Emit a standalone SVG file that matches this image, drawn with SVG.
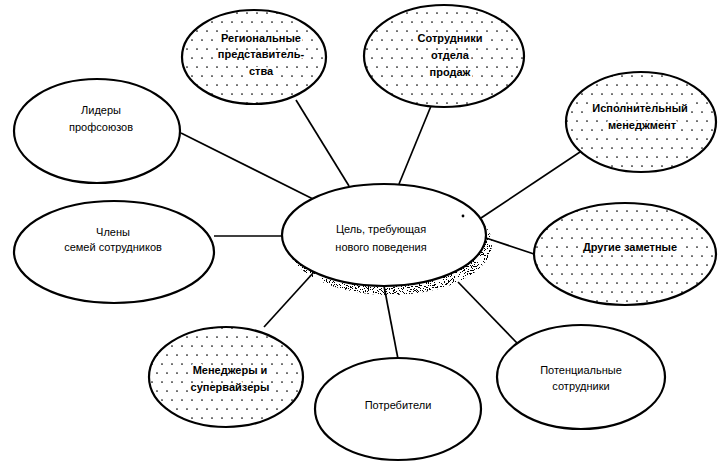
<svg xmlns="http://www.w3.org/2000/svg" width="719" height="465" viewBox="0 0 719 465">
  <defs>
    <!-- stippled fill used by the shaded groups -->
    <pattern id="dots" patternUnits="userSpaceOnUse" width="10" height="18">
      <rect width="10" height="18" fill="#fff"/>
      <circle cx="2" cy="4" r="0.85" fill="#000"/>
      <circle cx="7" cy="13" r="0.85" fill="#000"/>
    </pattern>
    <!-- grainy speckle for the shadow under the central goal -->
    <filter id="grain" x="-5%" y="-5%" width="110%" height="110%">
      <feTurbulence type="fractalNoise" baseFrequency="0.95" numOctaves="2" seed="5" result="n"/>
      <feColorMatrix in="n" type="matrix" values="0 0 0 0 0  0 0 0 0 0  0 0 0 0 0  0 0 0 1 0" result="k"/>
      <feComponentTransfer in="k" result="t">
        <feFuncA type="discrete" tableValues="0 0 0 1 1"/>
      </feComponentTransfer>
      <feComposite in="t" in2="SourceAlpha" operator="in"/>
    </filter>
  </defs>
  <style>
    .plain { fill: #fff; stroke: #000; stroke-width: 2.2; }
    .shade { fill: url(#dots); stroke: #000; stroke-width: 2.2; }
    .link { stroke: #000; stroke-width: 1.7; fill: none; }
    text { font-family: "Liberation Sans", Arial, sans-serif; font-size: 11px; fill: #000; text-anchor: middle; }
    .shade-t { font-weight: bold; paint-order: stroke; stroke: #fff; stroke-width: 4; stroke-linejoin: round; }
  </style>

  <rect width="719" height="465" fill="#fff"/>

  <!-- spokes from the central goal to each stakeholder group -->
  <g id="connectors">
    <line class="link" x1="181" y1="133" x2="313" y2="199"/>
    <line class="link" x1="296" y1="100" x2="349" y2="186"/>
    <line class="link" x1="431" y1="106" x2="399" y2="184"/>
    <line class="link" x1="583" y1="150" x2="481" y2="218"/>
    <line class="link" x1="214" y1="236" x2="283" y2="236"/>
    <line class="link" x1="486" y1="238" x2="534" y2="254"/>
    <line class="link" x1="264" y1="327" x2="314" y2="272"/>
    <line class="link" x1="384" y1="286" x2="398" y2="359"/>
    <line class="link" x1="458" y1="282" x2="517" y2="343"/>
  </g>

  <g id="goal">
    <ellipse cx="390" cy="244" rx="102" ry="51" fill="#000" filter="url(#grain)"/>
    <ellipse class="plain" cx="384" cy="235" rx="102" ry="51"/>
    <circle cx="463" cy="216" r="1.4" fill="#000"/>
    <text x="381" y="233">Цель, требующая</text>
    <text x="381" y="251">нового поведения</text>
  </g>

  <g id="regional">
    <ellipse class="shade" cx="254" cy="57" rx="72" ry="47"/>
    <text class="shade-t" x="261" y="42">Региональные</text>
    <text class="shade-t" x="261" y="58">представитель-</text>
    <text class="shade-t" x="261" y="75">ства</text>
  </g>

  <g id="sales">
    <ellipse class="shade" cx="444" cy="56" rx="80" ry="51"/>
    <text class="shade-t" x="450" y="42">Сотрудники</text>
    <text class="shade-t" x="450" y="59">отдела</text>
    <text class="shade-t" x="450" y="76">продаж</text>
  </g>

  <g id="unions">
    <ellipse class="plain" cx="97" cy="131" rx="83" ry="52"/>
    <text x="101" y="114">Лидеры</text>
    <text x="101" y="131">профсоюзов</text>
  </g>

  <g id="executives">
    <ellipse class="shade" cx="641" cy="122" rx="75" ry="50"/>
    <text class="shade-t" x="640" y="112">Исполнительный</text>
    <text class="shade-t" x="642" y="129">менеджмент</text>
  </g>

  <g id="families">
    <ellipse class="plain" cx="114" cy="252" rx="100" ry="51"/>
    <text x="113" y="236">Члены</text>
    <text x="113" y="251">семей сотрудников</text>
  </g>

  <g id="others">
    <ellipse class="shade" cx="625" cy="254" rx="91" ry="51"/>
    <text class="shade-t" x="630" y="251">Другие заметные</text>
  </g>

  <g id="managers">
    <ellipse class="shade" cx="226" cy="377" rx="77" ry="50"/>
    <text class="shade-t" x="230" y="374">Менеджеры и</text>
    <text class="shade-t" x="230" y="391">супервайзеры</text>
  </g>

  <g id="consumers">
    <ellipse class="plain" cx="398" cy="409" rx="83" ry="51"/>
    <text x="398" y="409">Потребители</text>
  </g>

  <g id="candidates">
    <ellipse class="plain" cx="581" cy="377" rx="84" ry="52"/>
    <text x="581" y="374">Потенциальные</text>
    <text x="581" y="390">сотрудники</text>
  </g>
</svg>
